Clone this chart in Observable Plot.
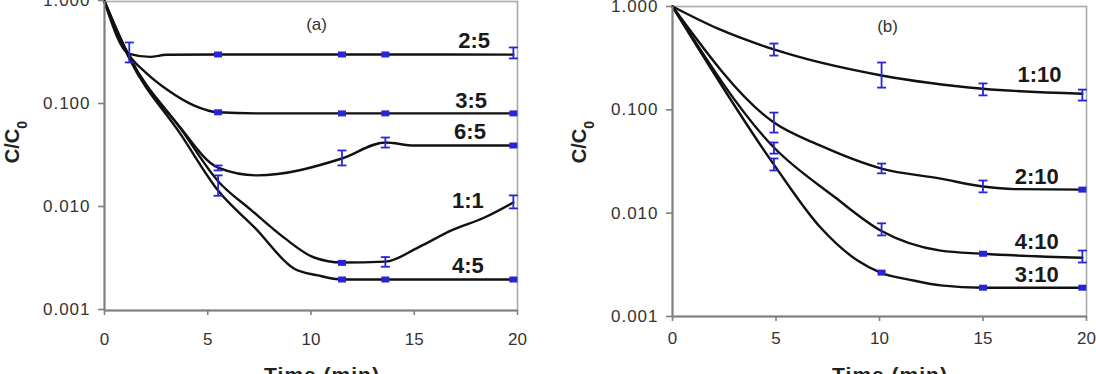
<!DOCTYPE html>
<html><head><meta charset="utf-8">
<script src="https://cdn.jsdelivr.net/npm/d3@7"></script>
<script src="https://cdn.jsdelivr.net/npm/@observablehq/plot@0.6"></script>
<style>
html,body{margin:0;padding:0;overflow:hidden;background:#fff;width:1096px;height:374px;}
#wrap{position:relative;width:1096px;height:374px;overflow:hidden;background:#fff;}
.panel{position:absolute;top:-20px;}
</style></head>
<body><div id="wrap"><div id="pa" class="panel" style="left:0px"></div><div id="pb" class="panel" style="left:548px"></div></div>
<script>
// ---------- shared axis ticks ----------
const xTicks = [0, 5, 10, 15, 20];
const yTicks = [1, 0.1, 0.01, 0.001];

// ---------- panel (a): smoothed model curves ----------
const a25T = [0, 1.2, 2.2, 3.0, 5.5, 11.5, 13.6, 19.8];
const a25V = [1, 0.31, 0.29, 0.304, 0.306, 0.306, 0.306, 0.305];
const a35T = [0, 1.2, 2.0, 3.06, 4.32, 5.5, 7.7, 11.5, 13.6, 19.8];
const a35V = [1, 0.30, 0.204, 0.138, 0.098, 0.084, 0.082, 0.082, 0.082, 0.082];
const a65T = [0, 1.2, 3.6, 5.5, 7.4, 11.5, 13.6, 15, 19.8];
const a65V = [1, 0.29, 0.062, 0.0244, 0.0205, 0.0299, 0.0428, 0.040, 0.040];
const a11T = [0, 1.2, 3.7, 5.5, 7.09, 8.69, 10.15, 11.5, 13.6, 15.2, 16.8, 18.4, 19.8];
const a11V = [1, 0.29, 0.058, 0.018, 0.0095, 0.0051, 0.00327, 0.00292, 0.00298, 0.0041, 0.006, 0.008, 0.0112];
const a45T = [0, 1.2, 3.7, 5.5, 7.3, 9.17, 10.34, 11.5, 13.6, 19.8];
const a45V = [1, 0.28, 0.051, 0.0146, 0.0063, 0.00256, 0.00219, 0.002, 0.002, 0.002];

// panel (a) square markers
const aSqSeries = ["2:5","2:5","2:5","3:5","3:5","3:5","3:5","6:5","1:1","4:5","4:5","4:5"];
const aSqT = [5.5, 11.5, 13.6, 5.5, 11.5, 13.6, 19.8, 19.8, 11.5, 11.5, 13.6, 19.8];
const aSqV = [0.306, 0.306, 0.306, 0.084, 0.082, 0.082, 0.082, 0.040, 0.0029, 0.002, 0.002, 0.002];
// panel (a) error bars
const aErrSeries = ["2:5","2:5","6:5","6:5","6:5","1:1","1:1","1:1"];
const aErrT  = [1.2, 19.8, 5.5, 11.5, 13.6, 5.5, 13.6, 19.8];
const aErrLo = [0.256, 0.28, 0.0229, 0.0256, 0.0382, 0.013, 0.00266, 0.0098];
const aErrHi = [0.40, 0.358, 0.0256, 0.0358, 0.0478, 0.0205, 0.0033, 0.0131];
// panel (a) curve labels
const aLabels = ["2:5", "3:5", "6:5", "1:1", "4:5"];
const aLabelT = [17.9, 17.75, 17.7, 17.6, 17.6];
const aLabelV = [0.418, 0.109, 0.0536, 0.0117, 0.00268];

// ---------- panel (b) ----------
const b110T = [0, 2.2, 4.9, 10.1, 15, 19.8];
const b110V = [1, 0.61, 0.384, 0.215, 0.16, 0.143];
const b210T = [0, 4.9, 7.15, 10.1, 12.95, 15, 16.5, 19.8];
const b210V = [1, 0.0753, 0.045, 0.027, 0.0216, 0.0181, 0.0171, 0.0169];
const b410T = [0, 4.9, 7.8, 10.05, 12.95, 15, 19.8];
const b410V = [1, 0.0432, 0.0145, 0.0068, 0.00434, 0.00405, 0.0037];
const b310T = [0, 4.9, 7.15, 8.94, 10.05, 11.64, 12.95, 15, 19.8];
const b310V = [1, 0.0295, 0.00726, 0.00348, 0.00266, 0.00223, 0.002, 0.0019, 0.0019];

const bSqSeries = ["2:10", "4:10", "3:10", "3:10", "3:10"];
const bSqT = [19.8, 15, 10.1, 15, 19.8];
const bSqV = [0.0169, 0.00405, 0.00266, 0.0019, 0.0019];
const bErrSeries = ["1:10","1:10","1:10","1:10","2:10","2:10","2:10","4:10","4:10","4:10","3:10"];
const bErrT  = [4.9, 10.1, 15, 19.8, 4.9, 10.1, 15, 4.9, 10.1, 19.8, 4.9];
const bErrLo = [0.335, 0.164, 0.138, 0.123, 0.0603, 0.0243, 0.0159, 0.0377, 0.00609, 0.00333, 0.0259];
const bErrHi = [0.438, 0.287, 0.180, 0.157, 0.094, 0.0302, 0.0207, 0.0483, 0.00797, 0.00435, 0.0338];
const bLabels = ["1:10", "2:10", "4:10", "3:10"];
const bLabelT = [17.73, 17.6, 17.6, 17.6];
const bLabelV = [0.217, 0.0226, 0.0053, 0.00255];

const panelTags = ["(a)", "(b)"];
const tagT = [10.27, 10.39];
const tagV = [0.598, 0.64];
const yTitle = "C/C";
const yTitleSub = "0";
const xTitle = "Time (min)";

// ---------- helpers ----------
const FONT = "'Liberation Sans', Arial, Helvetica, sans-serif";
const BLUE = "#2626d8";
const rows = (s, t, v) => t.map((d, i) => ({s, t: d, v: v[i]}));
const capSym = {draw(ctx) { ctx.moveTo(-4.5, 0); ctx.lineTo(4.5, 0); }};
const sqSym = {draw(ctx) { ctx.rect(-4, -3, 8, 6); }};

function makePanel(o) {
  const svg = Plot.plot({
    width: 548, height: 410,
    marginLeft: o.ml, marginRight: o.mr, marginTop: o.mt, marginBottom: o.mb,
    style: {fontFamily: FONT, background: "white", overflow: "visible"},
    x: {domain: [0, 20]},
    y: {type: "log", domain: [0.001, 1]},
    marks: [
      Plot.frame({stroke: "#a9a9a9", strokeWidth: 1.6}),
      Plot.line(o.curves, {x: "t", y: "v", z: "s", curve: "monotone-x", stroke: "#111", strokeWidth: 2.4}),
      Plot.ruleX(o.err, {x: "t", y1: "lo", y2: "hi", stroke: BLUE, strokeWidth: 1.8}),
      Plot.dot(o.err, {x: "t", y: "lo", symbol: capSym, stroke: BLUE, strokeWidth: 1.8, fill: "none"}),
      Plot.dot(o.err, {x: "t", y: "hi", symbol: capSym, stroke: BLUE, strokeWidth: 1.8, fill: "none"}),
      Plot.dot(o.sq, {x: "t", y: "v", symbol: sqSym, fill: BLUE, stroke: "none"}),
      Plot.ruleX([0], {stroke: "#808080", strokeWidth: 2}),
      Plot.ruleY([0.001], {stroke: "#808080", strokeWidth: 2}),
      Plot.axisY(yTicks, {tickFormat: d3.format(".3f"), tickSize: 6, tickPadding: 8, fontSize: 17,
        stroke: "#808080", strokeWidth: 1.6, fill: "#333", label: null, dy: o.dyY}),
      Plot.axisX(xTicks, {tickSize: 5, tickPadding: o.padX, fontSize: 17,
        stroke: "#808080", strokeWidth: 1.6, fill: "#333", label: null}),
      Plot.text(o.labels, {x: "t", y: "v", text: "s", fontSize: 22, fontWeight: "bold", fill: "#1a1a1a"}),
      Plot.text(o.tag, {x: "t", y: "v", text: "s", fontSize: 17, fill: "#333"})
    ]
  });
  const s = d3.select(svg);
  s.selectAll('[aria-label="y-axis tick label"] text').attr("letter-spacing", "1px");
  const yt = s.append("text")
    .attr("transform", `translate(${o.yTitleX},${o.yTitleY}) rotate(-90)`)
    .attr("text-anchor", "middle")
    .attr("font-family", FONT).attr("font-weight", "bold").attr("font-size", 20).attr("fill", "#222");
  yt.append("tspan").text(yTitle);
  yt.append("tspan").attr("baseline-shift", "sub").attr("font-size", 14).text(yTitleSub);
  s.append("text")
    .attr("x", o.xTitleX).attr("y", o.xTitleY)
    .attr("text-anchor", "middle")
    .attr("font-family", FONT).attr("font-weight", "bold").attr("font-size", 21)
    .attr("letter-spacing", "1px").attr("fill", "#222")
    .text(xTitle);
  return svg;
}

const curvesA = [
  ...rows("2:5", a25T, a25V), ...rows("3:5", a35T, a35V), ...rows("6:5", a65T, a65V),
  ...rows("1:1", a11T, a11V), ...rows("4:5", a45T, a45V)
];
const sqA = aSqT.map((t, i) => ({s: aSqSeries[i], t, v: aSqV[i]}));
const errA = aErrT.map((t, i) => ({s: aErrSeries[i], t, lo: aErrLo[i], hi: aErrHi[i]}));
const labA = aLabels.map((s, i) => ({s, t: aLabelT[i], v: aLabelV[i]}));

const curvesB = [
  ...rows("1:10", b110T, b110V), ...rows("2:10", b210T, b210V),
  ...rows("4:10", b410T, b410V), ...rows("3:10", b310T, b310V)
];
const sqB = bSqT.map((t, i) => ({s: bSqSeries[i], t, v: bSqV[i]}));
const errB = bErrT.map((t, i) => ({s: bErrSeries[i], t, lo: bErrLo[i], hi: bErrHi[i]}));
const labB = bLabels.map((s, i) => ({s, t: bLabelT[i], v: bLabelV[i]}));

document.getElementById("pa").appendChild(makePanel({
  curves: curvesA, sq: sqA, err: errA, labels: labA,
  tag: [{s: panelTags[0], t: tagT[0], v: tagV[0]}],
  ml: 104, mr: 31, mt: 21, mb: 80, padX: 17, dyY: -1,
  yTitleX: 19, yTitleY: 162, xTitleX: 322, xTitleY: 402
}));
document.getElementById("pb").appendChild(makePanel({
  curves: curvesB, sq: sqB, err: errB, labels: labB,
  tag: [{s: panelTags[1], t: tagT[1], v: tagV[1]}],
  ml: 124, mr: 10, mt: 26, mb: 74, padX: 10, dyY: 0,
  yTitleX: 38, yTitleY: 162, xTitleX: 342, xTitleY: 402
}));
</script>
</body></html>
